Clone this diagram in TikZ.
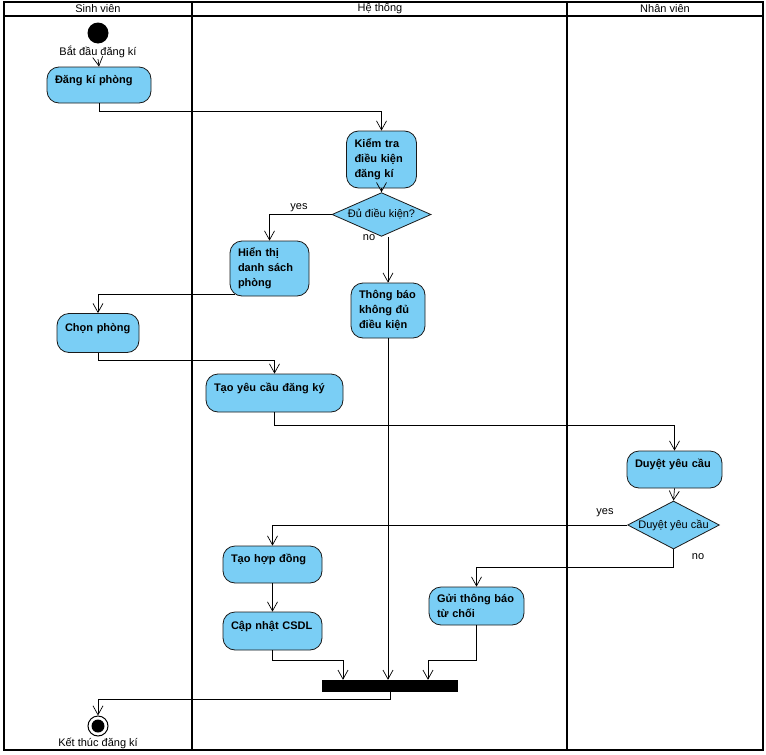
\documentclass[tikz,border=0pt]{standalone}
\usepackage{fontspec}
\setmainfont{Liberation Sans}
\usetikzlibrary{arrows.meta, shapes.geometric, calc}
\definecolor{actBlue}{HTML}{7ACEF5}
\definecolor{actLine}{HTML}{1A1A1A}

\begin{document}
\begin{tikzpicture}[
  x=1pt, y=-1pt,
  font=\fontsize{11}{15}\selectfont,
  act/.style={
    rectangle, rounded corners=12pt, draw=actLine, fill=actBlue,
    line width=0.8pt, inner xsep=8pt, inner ysep=0pt,
    font=\fontsize{11}{15}\selectfont\bfseries, align=left,
    text width=#1,
  },
  oneline/.style={text depth=12pt},
  dec/.style={
    diamond, aspect=2, draw=actLine, fill=actBlue,
    line width=0.8pt, inner sep=0pt,
  },
  lbl/.style={inner sep=1pt},
  lane/.style={draw=black, line width=2.5pt},
  arrow/.style={-{Straight Barb[length=9pt, width=10pt]}, line width=0.7pt},
]
\useasboundingbox (0,0) rectangle (766,755);

% Swimlanes
\draw[lane] (4,2) rectangle (763,750);
\draw[lane] (4,16) -- (763,16);
\draw[lane] (192,2) -- (192,750);
\draw[lane] (567,2) -- (567,750);
\node[lbl] (sv) at (98,8.5) {Sinh viên};
\node[lbl] (ht) at (380,8.5) {Hệ thống};
\node[lbl] (nv) at (665,8.5) {Nhân viên};

% Start / end
\node[circle, fill=black, minimum size=21pt, inner sep=0pt] (start) at (98,33) {};
\node[lbl] (startlbl) at (98,52) {Bắt đầu đăng kí};
\node[circle, draw=black, fill=white, line width=1pt, minimum size=20pt, inner sep=0pt] (stop) at (98,726) {};
\node[circle, fill=black, minimum size=13pt, inner sep=0pt] (stopdot) at (stop) {};
\node[lbl] (stoplbl) at (98,743) {Kết thúc đăng kí};

% Actions
\node[act=88pt, oneline, minimum height=36pt] (dangki) at (99,85) {Đăng kí phòng};
\node[act=54pt, minimum height=57pt] (kiemtra) at (381.5,159.5) {Kiểm tra\\điều kiện\\đăng kí};
\node[act=63pt, minimum height=55pt] (hienthi) at (269.5,268.5) {Hiển thị\\danh sách\\phòng};
\node[act=58pt, minimum height=55pt] (tbkhong) at (388,310.5) {Thông báo\\không đủ\\điều kiện};
\node[act=66pt, oneline, minimum height=39pt] (chon) at (98,333) {Chọn phòng};
\node[act=121pt, oneline, minimum height=38pt] (taoyc) at (274.5,393) {Tạo yêu cầu đăng ký};
\node[act=79pt, oneline, minimum height=37pt] (duyet) at (674.5,469.5) {Duyệt yêu cầu};
\node[act=83pt, oneline, minimum height=37pt] (hopdong) at (272.5,564.5) {Tạo hợp đồng};
\node[act=83pt, oneline, minimum height=38pt] (capnhat) at (272.5,631) {Cập nhật CSDL};
\node[act=79pt, minimum height=38pt] (guitb) at (476.5,606) {Gửi thông báo\\từ chối};

% Decisions and join
\node[dec, minimum width=99pt, minimum height=35pt] (dk1) at (381.5,214.5) {Đủ điều kiện?};
\node[dec, minimum width=91pt, minimum height=48pt] (dk2) at (673.5,525) {Duyệt yêu cầu};
\node[rectangle, fill=black, minimum width=136pt, minimum height=12pt, inner sep=0pt] (join) at (390,686) {};

% Guards
\node[lbl] (yes1) at (299,208) {yes};
\node[lbl] (no1) at (369,238) {no};
\node[lbl] (yes2) at (605,513) {yes};
\node[lbl] (no2) at (698,557) {no};

% Flows
\draw[arrow] (startlbl.south) -- (dangki.north);
\draw[arrow] (dangki.south) -- ++(0,8) -| (kiemtra.north);
\draw[arrow] (kiemtra.south) -- (dk1.north);
\draw[arrow] (dk1.west) -| (hienthi.north);
\draw[arrow] (dk1.south -| tbkhong.north) -- (tbkhong.north);
\draw[arrow] ([xshift=5pt, yshift=2pt]hienthi.south west) -| (chon.north);
\draw[arrow] (chon.south) -- ++(0,7) -| (taoyc.north);
\draw[arrow] (taoyc.south) -- ++(0,13) -| (duyet.north);
\draw[arrow] (duyet.south) -- (dk2.north);
\draw[arrow] (dk2.west) -| (hopdong.north);
\draw[arrow] (dk2.south) -- ++(0,18) -| (guitb.north);
\draw[arrow] (hopdong.south) -- (capnhat.north);
\draw[arrow] (capnhat.south) -- ++(0,10) -| ([xshift=-47pt]join.north);
\draw[arrow] (tbkhong.south) -- (tbkhong.south |- join.north);
\draw[arrow] (guitb.south) -- ++(0,35) -| ([xshift=38pt]join.north);
\draw[arrow] (join.south) -- ++(0,7) -| (stop.north);

\end{tikzpicture}
\end{document}
